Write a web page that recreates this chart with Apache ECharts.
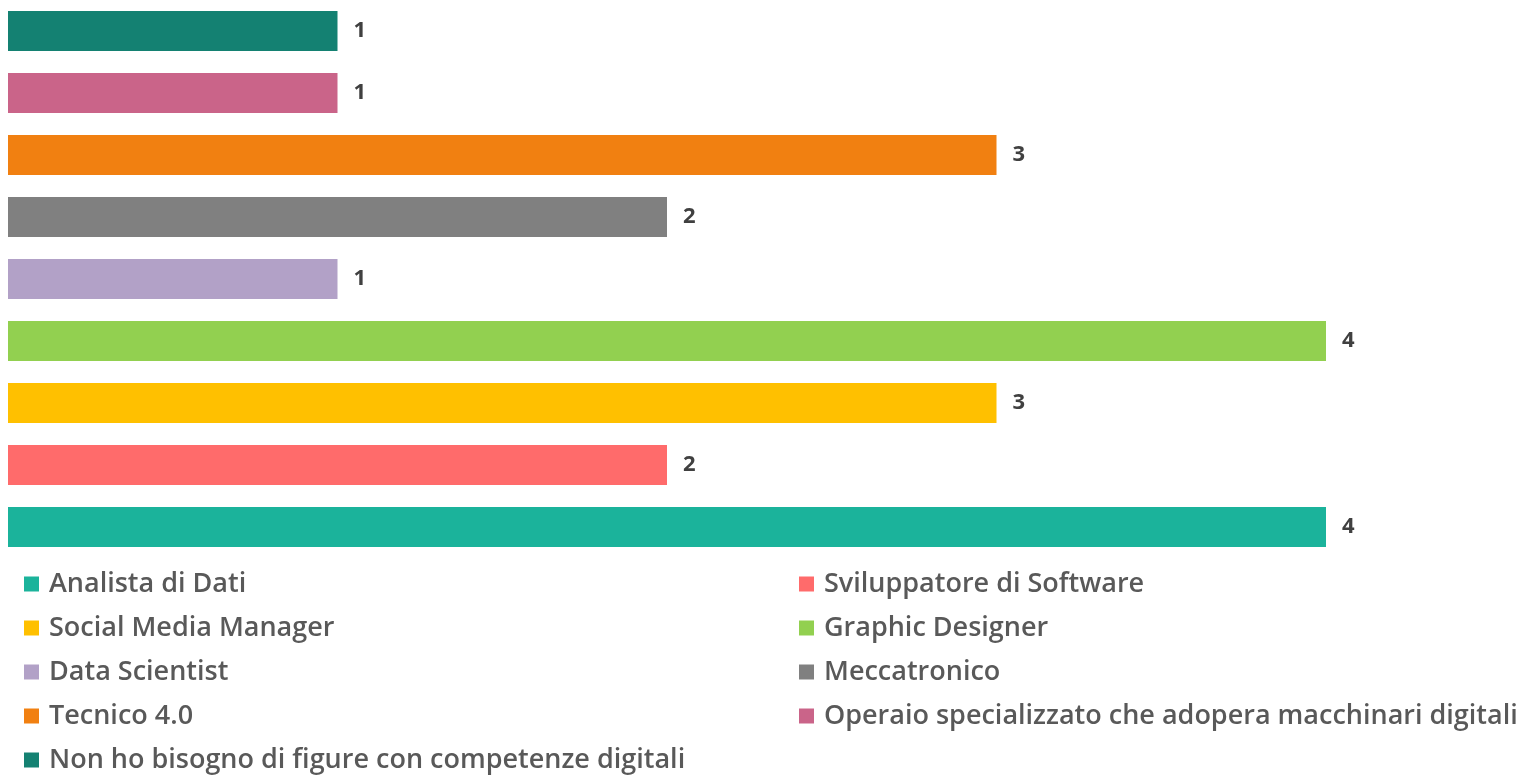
<!DOCTYPE html>
<html>
<head>
<meta charset="utf-8">
<script src="https://cdn.jsdelivr.net/npm/echarts@6/dist/echarts.min.js"></script>
<style>
  html, body { margin: 0; padding: 0; background: #fff; }
  #chart { width: 1534px; height: 775px; }
</style>
</head>
<body>
<div id="chart"></div>
<script>
// categories from bottom to top
const categories = [
  "Analista di Dati",
  "Sviluppatore di Software",
  "Social Media Manager",
  "Graphic Designer",
  "Data Scientist",
  "Meccatronico",
  "Tecnico 4.0",
  "Operaio specializzato che adopera macchinari digitali",
  "Non ho bisogno di figure con competenze digitali",
];
const values = [4, 2, 3, 4, 1, 2, 3, 1, 1];
const colors = [
  "#1BB39B", "#FF6B6B", "#FFC000", "#92D050", "#B2A1C7",
  "#808080", "#F18011", "#CA6489", "#148172",
];
// legend columns
const legendLeft = [categories[0], categories[2], categories[4], categories[6], categories[8]];
const legendRight = [categories[1], categories[3], categories[5], categories[7]];

const chart = echarts.init(document.getElementById("chart"));

// una serie per categoria, così la legenda ha una voce per ciascuna
const series = categories.map((name, i) => ({
  name: name,
  type: "bar",
  barWidth: 40,
  barGap: "-100%",
  itemStyle: { color: colors[i] },
  label: {
    show: true,
    position: "right",
    distance: 16,
    fontFamily: "Open Sans",
    fontSize: 22,
    fontWeight: "bold",
    color: "#404040",
  },
  data: values.map((v, j) => (j === i ? v : "-")),
}));

const legendText = {
  fontFamily: "Open Sans",
  fontSize: 27,
  fontWeight: 600,
  color: "#595959",
  lineHeight: 30,
  padding: [0, 0, 0, 5],
};

chart.setOption({
  animation: false,
  grid: { left: 8, right: 208, top: 0, bottom: 217 },
  xAxis: {
    type: "value",
    min: 0,
    max: 4,
    show: false,
  },
  yAxis: {
    type: "category",
    data: categories,
    show: false,
  },
  legend: [
    {
      data: legendLeft,
      orient: "vertical",
      left: 19,
      top: 564,
      height: 230,
      icon: "rect",
      itemWidth: 15,
      itemHeight: 15,
      itemGap: 14,
      textStyle: legendText,
    },
    {
      data: legendRight,
      orient: "vertical",
      left: 794,
      top: 564,
      height: 230,
      icon: "rect",
      itemWidth: 15,
      itemHeight: 15,
      itemGap: 14,
      textStyle: legendText,
    },
  ],
  series: series,
});
</script>
</body>
</html>
